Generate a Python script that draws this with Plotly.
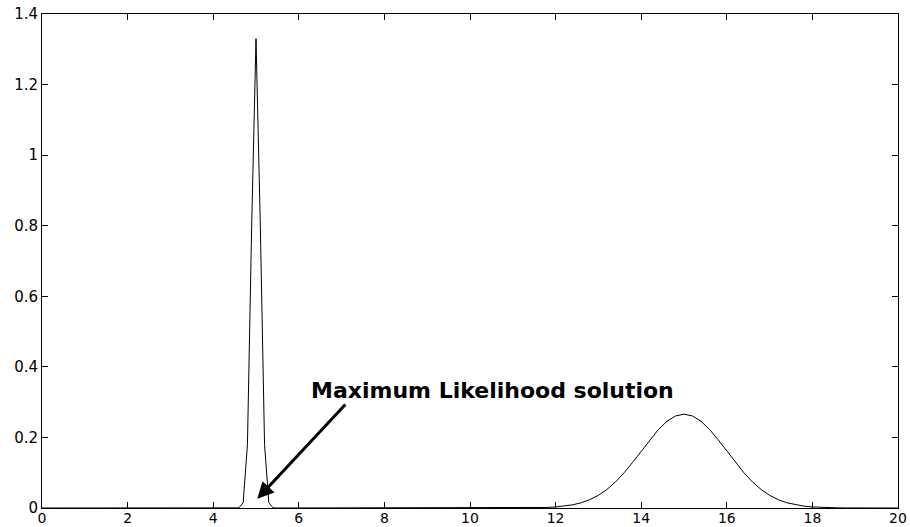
import plotly.graph_objects as go

x_values = [0.0, 4.5, 4.6, 4.7, 4.8, 4.9, 5.0, 5.1, 5.2, 5.3, 5.4, 5.5,
            11.0, 11.2, 11.4, 11.6, 11.8, 12.0, 12.2, 12.4, 12.6, 12.8,
            13.0, 13.2, 13.4, 13.6, 13.8, 14.0, 14.2, 14.4, 14.6, 14.8,
            15.0, 15.2, 15.4, 15.6, 15.8, 16.0, 16.2, 16.4, 16.6, 16.8,
            17.0, 17.2, 17.4, 17.6, 17.8, 18.0, 18.2, 18.4, 18.6, 18.8,
            19.0, 20.0]
density = [0.0, 0.0, 0.0004, 0.0148, 0.18, 0.807, 1.33, 0.807, 0.18, 0.0148, 0.0004, 0.0,
           0.0001, 0.0002, 0.0004, 0.0008, 0.0016, 0.0030, 0.0053, 0.0091, 0.0149, 0.0237,
           0.0360, 0.0526, 0.0739, 0.0998, 0.1295, 0.1613, 0.1931, 0.2222, 0.2455, 0.2607,
           0.2660, 0.2607, 0.2455, 0.2222, 0.1931, 0.1613, 0.1295, 0.0998, 0.0739, 0.0526,
           0.0360, 0.0237, 0.0149, 0.0091, 0.0053, 0.0030, 0.0016, 0.0008, 0.0004, 0.0002,
           0.0001, 0.0]

x_ticks = [0, 2, 4, 6, 8, 10, 12, 14, 16, 18, 20]
y_ticks = [0, 0.2, 0.4, 0.6, 0.8, 1.0, 1.2, 1.4]
y_tick_labels = ["0", "0.2", "0.4", "0.6", "0.8", "1", "1.2", "1.4"]

annotation_text = "Maximum Likelihood solution"
arrow_tip = (5.03, 0.026)
arrow_tail = (7.12, 0.2975)
text_pos = (10.53, 0.334)

fig = go.Figure()
fig.add_trace(go.Scatter(x=x_values, y=density, mode="lines",
                         line=dict(color="black", width=1), showlegend=False,
                         hoverinfo="skip"))

fig.add_annotation(x=arrow_tip[0], y=arrow_tip[1], ax=arrow_tail[0], ay=arrow_tail[1],
                   xref="x", yref="y", axref="x", ayref="y", text="",
                   showarrow=True, arrowhead=2, arrowsize=1.1, arrowwidth=3,
                   arrowcolor="black")
fig.add_annotation(x=text_pos[0], y=text_pos[1], xref="x", yref="y",
                   text="<b>" + annotation_text + "</b>", showarrow=False,
                   xanchor="center", yanchor="middle",
                   font=dict(family="DejaVu Sans", size=22, color="black"))

axis_common = dict(showgrid=False, zeroline=False, showline=True, linecolor="black",
                   linewidth=1, mirror="ticks", ticks="inside", ticklen=6,
                   tickcolor="black", tickwidth=1, automargin=False)

fig.update_xaxes(range=[0, 20], tickvals=x_ticks, ticktext=[str(v) for v in x_ticks],
                 tickfont=dict(family="DejaVu Sans", size=14, color="black"),
                 ticklabelstandoff=-3, **axis_common)
fig.update_yaxes(range=[0, 1.4], tickvals=y_ticks, ticktext=y_tick_labels,
                 tickfont=dict(family="DejaVu Sans", size=15, color="black"),
                 **axis_common)

fig.update_layout(width=910, height=527, plot_bgcolor="white", paper_bgcolor="white",
                  margin=dict(l=42, r=12, t=14, b=19), showlegend=False)

fig.write_html("out.html", config={"displayModeBar": False},
               post_script="document.body.style.margin='0';document.body.style.padding='0';")
